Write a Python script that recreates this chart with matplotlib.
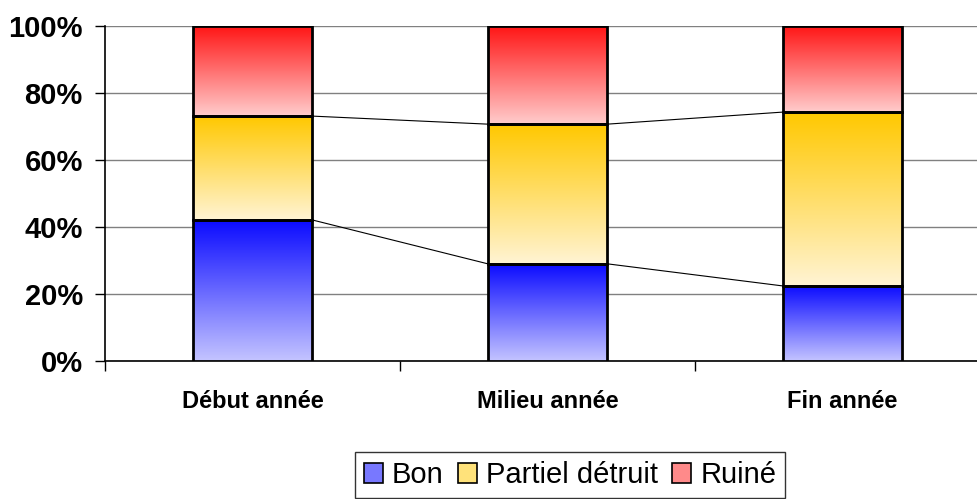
import numpy as np
import matplotlib.pyplot as plt
from matplotlib.colors import LinearSegmentedColormap
from matplotlib.patches import Patch

plt.rcParams['font.family'] = ['Liberation Sans', 'DejaVu Sans']

categories = ["Début année", "Milieu année", "Fin année"]
series_names = ["Bon", "Partiel détruit", "Ruiné"]
bon = [42.1, 29.0, 22.4]
partiel = [31.0, 41.7, 51.9]
ruine = [26.9, 29.3, 25.7]

# (saturated top, light bottom) for each series
grad_colors = [
    ("#0a0aff", "#c4c4ff"),
    ("#ffc800", "#fff4d4"),
    ("#ff1414", "#ffcccc"),
]
legend_colors = ["#7878ff", "#ffe27a", "#ff8a8a"]

fig = plt.figure(figsize=(9.78, 4.99), dpi=100)
ax = fig.add_axes([0.1074, 0.2766, 0.905, 0.6713])

x = np.arange(len(categories))
width = 0.405
values = [bon, partiel, ruine]
bottoms = np.zeros(len(categories))
tops_per_series = []

for vals, (top_c, bot_c) in zip(values, grad_colors):
    cmap = LinearSegmentedColormap.from_list("g", [bot_c, top_c])
    bars = ax.bar(x, vals, width, bottom=bottoms, facecolor="none",
                  edgecolor="black", linewidth=2, zorder=4)
    for rect in bars:
        x0, y0 = rect.get_x(), rect.get_y()
        w, h = rect.get_width(), rect.get_height()
        grad = np.linspace(0, 1, 256).reshape(-1, 1)
        ax.imshow(grad, cmap=cmap, aspect="auto", origin="lower",
                  extent=(x0, x0 + w, y0, y0 + h), zorder=3)
    bottoms = bottoms + np.array(vals)
    tops_per_series.append(bottoms.copy())

# series lines between bars
for tops in tops_per_series[:2]:
    for i in range(len(categories) - 1):
        ax.plot([x[i] + width / 2, x[i + 1] - width / 2], [tops[i], tops[i + 1]],
                color="black", linewidth=0.8, zorder=2)

ax.set_xlim(-0.5, 2.5)
ax.set_ylim(0, 100)
ax.set_yticks(np.arange(0, 101, 20))
ax.set_yticklabels([f"{v}%" for v in range(0, 101, 20)], fontsize=21, fontweight="bold")
ax.yaxis.grid(True, color="#808080", linewidth=1)
ax.set_axisbelow(True)

ax.set_xticks(x)
ax.set_xticklabels(categories, fontsize=17, fontweight="bold")
ax.tick_params(axis="x", which="major", length=0, pad=21)
ax.set_xticks(np.arange(-0.5, 3.0, 1.0), minor=True)
ax.tick_params(axis="x", which="minor", length=7, color="black", width=1)
ax.tick_params(axis="y", length=7, width=1, pad=9)

for side in ["top", "right"]:
    ax.spines[side].set_visible(False)
ax.spines["left"].set_linewidth(1.2)
ax.spines["bottom"].set_linewidth(1.2)

handles = [Patch(facecolor=c, edgecolor="black", linewidth=1.2) for c in legend_colors]
leg = fig.legend(handles, series_names, loc="center", bbox_to_anchor=(0.583, 0.048),
                 ncol=3, fontsize=21, frameon=True, fancybox=False, edgecolor="black",
                 handlelength=0.65, handleheight=0.65, handletextpad=0.3,
                 columnspacing=0.5, borderpad=0.3, borderaxespad=0)
leg.get_frame().set_linewidth(1)

fig.savefig("out.png", dpi=100)
